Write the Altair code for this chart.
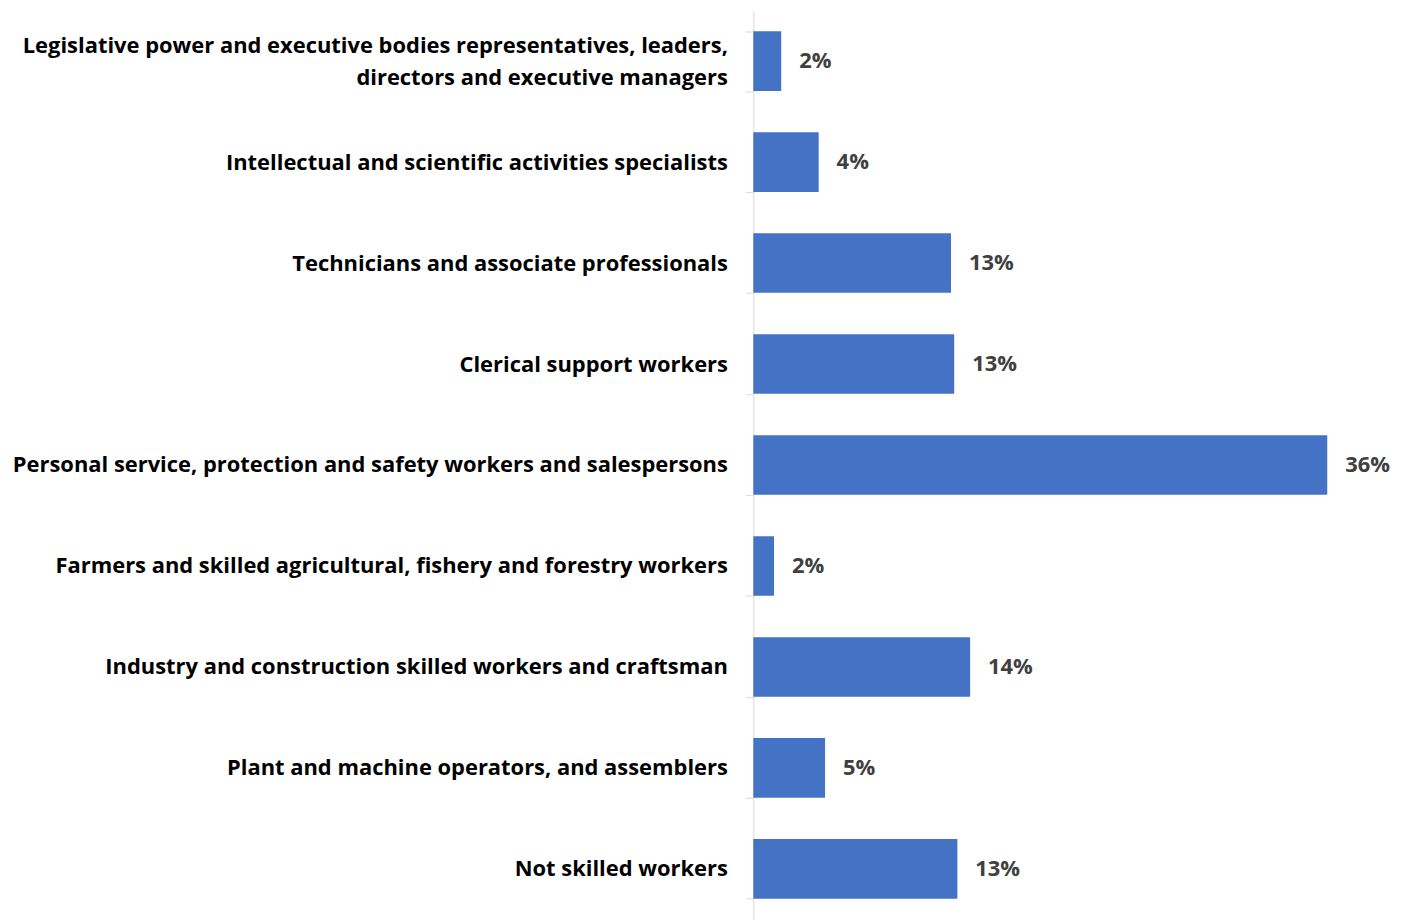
import altair as alt
import pandas as pd

categories = [
    "Legislative power and executive bodies representatives, leaders,|directors and executive managers",
    "Intellectual and scientific activities specialists",
    "Technicians and associate professionals",
    "Clerical support workers",
    "Personal service, protection and safety workers and salespersons",
    "Farmers and skilled agricultural, fishery and forestry workers",
    "Industry and construction skilled workers and craftsman",
    "Plant and machine operators, and assemblers",
    "Not skilled workers",
]
values = [1.75, 4.1, 12.4, 12.6, 36.0, 1.3, 13.6, 4.5, 12.8]
value_labels = ["2%", "4%", "13%", "13%", "36%", "2%", "14%", "5%", "13%"]

df = pd.DataFrame({"category": categories, "value": values, "label": value_labels})

FONT = "Open Sans"
FS = 22
NBSP = "\u00a0"
BLANK = "\u2800"

label_expr = (
    "indexof(datum.label, '|') >= 0 ? "
    "[split(datum.label, '|')[0], '" + BLANK + "', split(datum.label, '|')[1]] : "
    "['" + NBSP + "', datum.label]"
)

y_enc = alt.Y(
    "category:N",
    sort=None,
    title=None,
    scale=alt.Scale(paddingInner=0.41, paddingOuter=0.205),
    axis=alt.Axis(
        labelExpr=label_expr,
        labelFont=FONT,
        labelFontSize=FS,
        labelFontWeight="bold",
        labelColor="#000000",
        labelLineHeight=16,
        labelOffset=-16,
        labelPadding=18,
        labelLimit=0,
        tickBand="extent",
        tickSize=8,
        tickColor="#D9D9D9",
        tickWidth=1,
        domainColor="#D9D9D9",
        domainWidth=1,
        grid=False,
    ),
)

x_enc = alt.X(
    "value:Q",
    scale=alt.Scale(domain=[0, 37.5], nice=False),
    axis=None,
)

bars = alt.Chart(df).mark_bar(color="#4472C4").encode(x=x_enc, y=y_enc)

text = alt.Chart(df).mark_text(
    align="left",
    baseline="middle",
    dx=18,
    font=FONT,
    fontSize=FS,
    fontWeight="bold",
    color="#404040",
).encode(x=x_enc, y=alt.Y("category:N", sort=None), text="label:N")

chart = (
    alt.layer(bars, text)
    .properties(
        width=600,
        height=912,
        autosize=alt.AutoSizeParams(type="none"),
        padding={"top": 1, "left": 748, "right": 45, "bottom": 0},
        background="#FFFFFF",
    )
    .configure_view(strokeWidth=0)
)

chart.save("out.html", embed_options={"renderer": "svg", "actions": False})
